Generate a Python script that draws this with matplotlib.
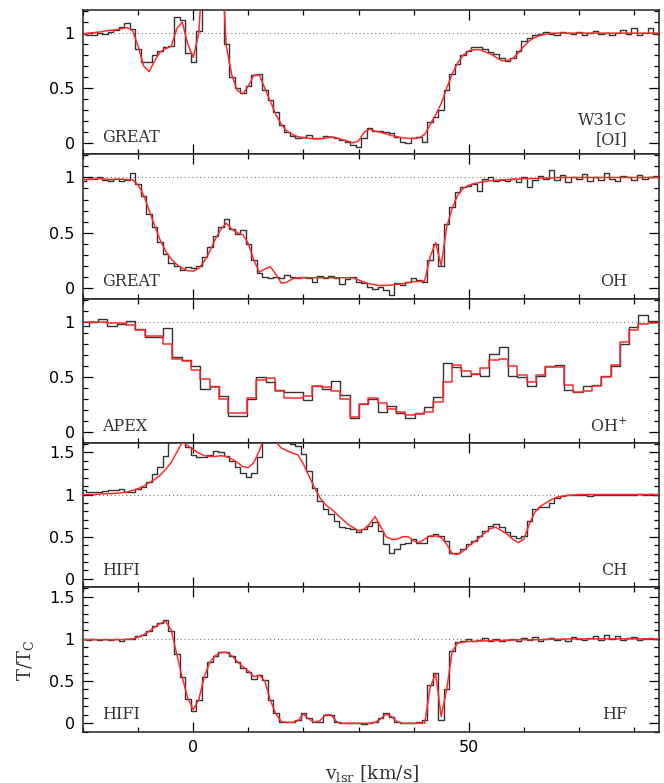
import numpy as np
import matplotlib
matplotlib.use("Agg")
import matplotlib.pyplot as plt
from matplotlib.ticker import MultipleLocator

# velocity channels, 1 km/s, -20 .. 85
vel = np.arange(-20, 86)

# W31C [OI] (GREAT)
oi_obs = [0.99, 0.98, 0.985, 1.00, 0.99, 1.01, 1.03, 1.06, 1.09, 1.04,
          0.86, 0.74, 0.74, 0.80, 0.84, 0.87, 0.88, 1.15, 1.12, 0.82,
          0.74, 1.02, 1.80, 1.80, 1.80, 1.80, 0.90, 0.60, 0.50, 0.46,
          0.52, 0.62, 0.63, 0.48, 0.39, 0.28, 0.17, 0.10, 0.07, 0.05,
          0.06, 0.08, 0.045, 0.05, 0.07, 0.06, 0.05, 0.03, 0.015, -0.015,
          -0.03, 0.05, 0.14, 0.11, 0.115, 0.10, 0.09, 0.06, 0.015, 0.0,
          0.045, 0.06, 0.015, 0.195, 0.24, 0.30, 0.48, 0.63, 0.72, 0.80,
          0.84, 0.87, 0.87, 0.86, 0.83, 0.81, 0.77, 0.75, 0.77, 0.84,
          0.93, 0.96, 0.98, 0.99, 1.01, 0.99, 0.98, 1.01, 1.00, 0.99,
          1.01, 0.98, 1.00, 1.02, 0.99, 1.00, 0.98, 1.00, 1.03, 0.99,
          1.05, 0.98, 1.00, 1.05, 0.99, 1.00]
oi_mod = [0.99, 1.00, 1.005, 1.01, 1.02, 1.025, 1.03, 1.04, 1.05, 1.02,
          0.88, 0.70, 0.65, 0.75, 0.83, 0.86, 0.88, 1.04, 1.10, 0.90,
          0.78, 1.00, 1.80, 1.80, 1.80, 1.80, 0.88, 0.62, 0.48, 0.45,
          0.52, 0.62, 0.62, 0.50, 0.38, 0.26, 0.17, 0.11, 0.08, 0.06,
          0.05, 0.045, 0.04, 0.04, 0.045, 0.06, 0.05, 0.035, 0.02, 0.005,
          0.02, 0.10, 0.13, 0.11, 0.10, 0.085, 0.07, 0.06, 0.05, 0.045,
          0.045, 0.05, 0.08, 0.17, 0.26, 0.36, 0.50, 0.63, 0.73, 0.80,
          0.84, 0.85, 0.85, 0.83, 0.81, 0.78, 0.75, 0.75, 0.77, 0.82,
          0.88, 0.93, 0.96, 0.98, 0.99, 1.0, 1.0, 1.0, 1.0, 1.0,
          1.0, 1.0, 1.0, 1.0, 1.0, 1.0, 1.0, 1.0, 1.0, 1.0,
          1.0, 1.0, 1.0, 1.0, 1.0, 1.0]

# OH (GREAT)
oh_obs = [0.97, 0.99, 0.985, 1.00, 0.975, 0.97, 0.985, 0.965, 0.975, 1.04,
          0.94, 0.835, 0.67, 0.55, 0.41, 0.31, 0.22, 0.20, 0.16, 0.19,
          0.175, 0.20, 0.28, 0.37, 0.47, 0.55, 0.625, 0.535, 0.49, 0.52,
          0.40, 0.25, 0.13, 0.10, 0.085, 0.10, 0.085, 0.115, 0.10, 0.085,
          0.10, 0.09, 0.055, 0.105, 0.09, 0.105, 0.085, 0.035, 0.075, 0.10,
          0.055, 0.04, 0.01, -0.015, 0.01, -0.02, -0.065, 0.04, 0.025, 0.055,
          0.085, 0.065, 0.055, 0.25, 0.40, 0.20, 0.58, 0.73, 0.865, 0.91,
          0.925, 0.945, 0.88, 0.985, 1.00, 0.965, 0.98, 0.97, 0.99, 0.96,
          1.00, 0.91, 0.98, 1.01, 0.99, 1.07, 0.98, 1.02, 0.96, 1.00,
          0.99, 1.03, 0.97, 1.00, 0.98, 1.04, 0.99, 0.97, 1.01, 1.00,
          0.98, 1.02, 0.99, 1.00, 1.01, 0.99]
oh_mod = [0.98, 0.985, 0.985, 0.99, 0.985, 0.98, 0.985, 0.985, 0.98, 0.98,
          0.93, 0.84, 0.70, 0.56, 0.43, 0.33, 0.26, 0.21, 0.175, 0.155,
          0.15, 0.175, 0.24, 0.33, 0.44, 0.53, 0.585, 0.53, 0.50, 0.48,
          0.40, 0.25, 0.14, 0.17, 0.19, 0.12, 0.04, 0.05, 0.08, 0.09,
          0.09, 0.09, 0.09, 0.09, 0.09, 0.09, 0.09, 0.09, 0.09, 0.09,
          0.07, 0.05, 0.035, 0.025, 0.02, 0.02, 0.025, 0.03, 0.035, 0.045,
          0.055, 0.055, 0.06, 0.28, 0.41, 0.20, 0.55, 0.72, 0.84, 0.90,
          0.93, 0.945, 0.955, 0.965, 0.97, 0.975, 0.98, 0.98, 0.985, 0.985,
          0.99, 0.99, 0.99, 0.995, 0.995, 0.995, 1.0, 1.0, 1.0, 1.0,
          1.0, 1.0, 1.0, 1.0, 1.0, 1.0, 1.0, 1.0, 1.0, 1.0,
          1.0, 1.0, 1.0, 1.0, 1.0, 1.0]

# OH+ (APEX), coarser channels of ~1.69 km/s
ohp_v = -19.85 + 1.692 * np.arange(63)
ohp_obs = [0.96, 1.0, 1.025, 0.965, 0.98, 1.01, 0.935, 0.86, 0.86, 0.94,
           0.68, 0.65, 0.595, 0.39, 0.42, 0.33, 0.147, 0.147, 0.30, 0.50,
           0.45, 0.38, 0.36, 0.36, 0.29, 0.42, 0.39, 0.46, 0.34, 0.13,
           0.255, 0.30, 0.18, 0.24, 0.17, 0.123, 0.17, 0.23, 0.32, 0.63,
           0.59, 0.51, 0.53, 0.51, 0.71, 0.77, 0.51, 0.50, 0.42, 0.51,
           0.60, 0.61, 0.38, 0.36, 0.42, 0.43, 0.51, 0.60, 0.80, 0.95,
           1.06, 1.01, 1.0]
ohp_mod = [1.0, 1.0, 1.0, 0.99, 0.985, 0.975, 0.93, 0.875, 0.87, 0.80,
           0.66, 0.64, 0.56, 0.48, 0.41, 0.30, 0.17, 0.17, 0.31, 0.47,
           0.49, 0.37, 0.31, 0.31, 0.33, 0.42, 0.41, 0.37, 0.30, 0.14,
           0.25, 0.31, 0.26, 0.21, 0.18, 0.15, 0.16, 0.18, 0.27, 0.45,
           0.61, 0.55, 0.53, 0.58, 0.65, 0.66, 0.60, 0.52, 0.45, 0.52,
           0.59, 0.59, 0.43, 0.36, 0.37, 0.42, 0.50, 0.61, 0.82, 0.93,
           0.98, 0.99, 0.99]

# CH (HIFI)
ch_obs = [1.05, 1.035, 1.035, 1.035, 1.04, 1.05, 1.05, 1.06, 1.03, 1.03,
          1.06, 1.09, 1.15, 1.24, 1.33, 1.46, 1.62, 1.70, 1.70, 1.56,
          1.47, 1.44, 1.44, 1.47, 1.51, 1.50, 1.46, 1.40, 1.32, 1.25,
          1.21, 1.25, 1.45, 1.70, 1.70, 1.70, 1.70, 1.70, 1.60, 1.57,
          1.48, 1.28, 1.08, 0.92, 0.83, 0.77, 0.69, 0.62, 0.60, 0.59,
          0.55, 0.59, 0.63, 0.67, 0.57, 0.41, 0.31, 0.35, 0.41, 0.43,
          0.47, 0.43, 0.43, 0.51, 0.53, 0.51, 0.45, 0.31, 0.31, 0.35,
          0.41, 0.45, 0.51, 0.57, 0.63, 0.65, 0.61, 0.55, 0.51, 0.49,
          0.51, 0.69, 0.83, 0.85, 0.85, 0.90, 0.96, 0.98, 1.00, 1.00,
          0.995, 1.0, 0.985, 0.995, 1.0, 0.99, 1.0, 1.0, 0.995, 1.0,
          1.0, 1.005, 1.0, 1.01, 1.0, 1.0]
ch_mod = [1.0, 1.0, 1.0, 1.005, 1.01, 1.01, 1.015, 1.02, 1.03, 1.05,
          1.07, 1.10, 1.14, 1.18, 1.23, 1.30, 1.38, 1.50, 1.62, 1.58,
          1.53, 1.49, 1.46, 1.45, 1.45, 1.46, 1.45, 1.42, 1.38, 1.33,
          1.32, 1.38, 1.52, 1.70, 1.70, 1.62, 1.55, 1.52, 1.49, 1.47,
          1.36, 1.22, 1.08, 0.96, 0.88, 0.83, 0.77, 0.71, 0.65, 0.61,
          0.57, 0.59, 0.65, 0.74, 0.62, 0.50, 0.47, 0.47, 0.50, 0.50,
          0.45, 0.43, 0.47, 0.51, 0.51, 0.49, 0.41, 0.30, 0.29, 0.33,
          0.39, 0.44, 0.49, 0.55, 0.60, 0.61, 0.57, 0.53, 0.47, 0.43,
          0.47, 0.65, 0.79, 0.86, 0.90, 0.94, 0.97, 0.98, 0.99, 0.995,
          1.0, 1.0, 1.0, 1.0, 1.0, 1.0, 1.0, 1.0, 1.0, 1.0,
          1.0, 1.0, 1.0, 1.0, 1.0, 1.0]

# HF (HIFI)
hf_obs = [1.0, 0.99, 1.0, 0.985, 1.0, 0.99, 1.0, 0.98, 1.0, 1.0,
          1.03, 1.05, 1.09, 1.15, 1.19, 1.22, 1.09, 0.82, 0.55, 0.29,
          0.15, 0.27, 0.55, 0.72, 0.80, 0.84, 0.85, 0.80, 0.72, 0.66,
          0.61, 0.53, 0.57, 0.51, 0.27, 0.12, 0.02, 0.02, 0.01, 0.04,
          0.12, 0.06, 0.01, 0.02, 0.10, 0.10, 0.02, 0.0, 0.0, 0.005,
          0.0, -0.005, 0.0, 0.02, 0.06, 0.12, 0.08, 0.02, 0.0, 0.005,
          0.0, 0.01, 0.04, 0.45, 0.60, 0.04, 0.40, 0.86, 0.96, 0.97,
          1.0, 0.98, 0.99, 1.01, 0.98, 1.0, 0.97, 0.99, 1.0, 0.98,
          1.01, 0.99, 1.02, 0.98, 1.0, 1.01, 0.99, 1.0, 0.98, 1.02,
          1.0, 0.99, 1.01, 1.03, 0.99, 1.04, 1.0, 1.03, 0.99, 1.01,
          1.02, 0.99, 1.0, 1.01, 1.0, 0.99]
hf_mod = [0.99, 0.99, 0.99, 0.99, 0.99, 0.99, 0.99, 0.99, 0.995, 1.0,
          1.02, 1.05, 1.09, 1.14, 1.18, 1.21, 1.10, 0.82, 0.54, 0.30,
          0.16, 0.28, 0.55, 0.72, 0.80, 0.84, 0.84, 0.80, 0.73, 0.67,
          0.62, 0.55, 0.57, 0.50, 0.27, 0.11, 0.02, 0.01, 0.01, 0.03,
          0.11, 0.05, 0.01, 0.03, 0.10, 0.10, 0.02, 0.0, 0.0, 0.0,
          0.0, 0.0, 0.0, 0.01, 0.05, 0.11, 0.08, 0.02, 0.0, 0.0,
          0.0, 0.0, 0.0, 0.42, 0.59, 0.08, 0.40, 0.85, 0.95, 0.96,
          0.97, 0.97, 0.975, 0.975, 0.98, 0.98, 0.98, 0.985, 0.985, 0.99,
          0.99, 0.99, 0.99, 0.99, 0.995, 0.995, 0.995, 0.995, 1.0, 1.0,
          1.0, 1.0, 1.0, 1.0, 1.0, 1.0, 1.0, 1.0, 1.0, 1.0,
          1.0, 1.0, 1.0, 1.0, 1.0, 1.0]

panels = [
    (vel, oi_obs, oi_mod, "GREAT", "W31C\n[OI]", (-0.1, 1.21)),
    (vel, oh_obs, oh_mod, "GREAT", "OH", (-0.1, 1.21)),
    (ohp_v, ohp_obs, ohp_mod, "APEX", r"OH$^{+}$", (-0.1, 1.21)),
    (vel, ch_obs, ch_mod, "HIFI", "CH", (-0.1, 1.61)),
    (vel, hf_obs, hf_mod, "HIFI", "HF", (-0.1, 1.61)),
]

plt.rcParams['mathtext.fontset'] = 'dejavuserif'
serif = "DejaVu Serif"

fig = plt.figure(figsize=(6.64, 7.83), dpi=100)
left, width = 83.1 / 664, 576.2 / 664
h = 144.34 / 783
bottom0 = 1 - 731.7 / 783

axes = []
for i, (x, obs, mod, inst, species, ylim) in enumerate(panels):
    b = bottom0 + (4 - i) * h
    ax = fig.add_axes([left, b, width, h])
    axes.append(ax)
    ax.axhline(1.0, color='#777777', lw=0.8, ls=(0, (1, 2.5)), zorder=1)
    ax.step(x, obs, where='mid', color='#333333', lw=1.0, zorder=2)
    if i == 2:
        ax.step(x, mod, where='mid', color='#ff2a2a', lw=1.1, zorder=3)
    else:
        ax.plot(x, mod, color='#ff2a2a', lw=1.1, zorder=3)
    ax.set_xlim(-20, 84.6)
    ax.set_ylim(*ylim)
    ax.xaxis.set_major_locator(MultipleLocator(50))
    ax.xaxis.set_minor_locator(MultipleLocator(10))
    ax.yaxis.set_major_locator(MultipleLocator(0.5))
    ax.yaxis.set_minor_locator(MultipleLocator(0.1))
    ax.tick_params(which='both', direction='in', top=True, right=True,
                   width=0.9, labelsize=11.5, pad=6)
    ax.tick_params(which='major', length=7)
    ax.tick_params(which='minor', length=3.6)
    ax.set_yticks(ax.get_yticks())
    ax.set_yticklabels([f"{t:g}" for t in ax.get_yticks()])
    ax.set_ylim(*ylim)
    for sp in ax.spines.values():
        sp.set_linewidth(1.1)
        sp.set_color('#222222')
    if i < 4:
        ax.tick_params(labelbottom=False)
    ax.text(0.033, 0.085, inst, transform=ax.transAxes, family=serif,
            fontsize=11.5, color='#333333', ha='left', va='baseline')
    ax.text(0.945, 0.085 if i else 0.07, species, transform=ax.transAxes,
            family=serif, fontsize=11.5, color='#333333', ha='right',
            va='baseline', multialignment='right')

axes[-1].set_xticks([0, 50])
axes[-1].set_xticklabels(["0", "50"])
fig.text(372 / 664, 1 - 773 / 783, r"v$_{\rm lsr}$ [km/s]", family=serif,
         fontsize=13.5, ha='center', va='center', color='#333333')
fig.text(26 / 664, 1 - 660 / 783, r"T/T$_{\rm C}$", family=serif,
         fontsize=13, ha='center', va='center', rotation=90, color='#333333')

fig.savefig("out.png", dpi=100)
